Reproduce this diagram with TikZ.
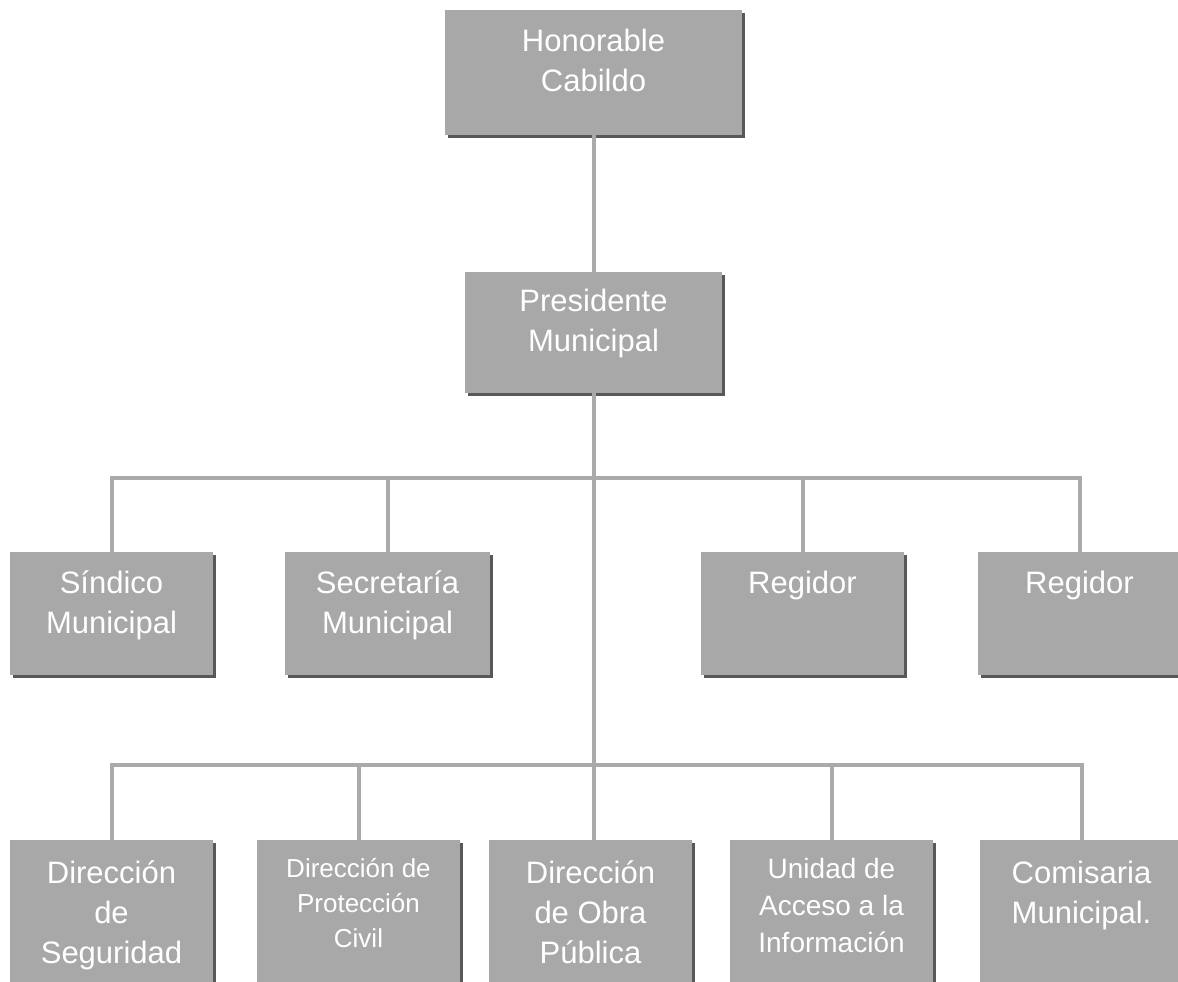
\documentclass[tikz,border=0pt]{standalone}
\usepackage{fontspec}
\setmainfont{Liberation Sans}
\usetikzlibrary{positioning,shadows}
\definecolor{cajagris}{RGB}{168,168,168}
\definecolor{sombragris}{RGB}{88,88,88}
\definecolor{lineagris}{RGB}{170,170,170}

\begin{document}
\begin{tikzpicture}[x=1pt, y=-1pt,
        cargo/.style={rectangle, fill=cajagris, text=white, inner sep=0pt, anchor=north,
            minimum width=203pt, minimum height=123pt, text height=41pt, text depth=82pt,
            align=center, font=\fontsize{31}{40}\selectfont,
            drop shadow={shadow xshift=3pt, shadow yshift=-3pt, opacity=1, fill=sombragris}},
        doslineas/.style={text height=81pt, text depth=42pt},
        cargobajo/.style={cargo, minimum height=170pt, text height=123pt, text depth=47pt},
        linea/.style={draw=lineagris, line width=4pt}]
    \useasboundingbox (0,0) rectangle (1178,982);
    \clip (0,0) rectangle (1178,982);
    \fill[white] (0,0) rectangle (1178,982);

    \node[cargo, minimum width=297pt, minimum height=125pt, text height=81pt, text depth=44pt] (cabildo) at (593.5,10) {Honorable\\Cabildo};
    \node[cargo, minimum width=257pt, minimum height=121pt, text height=79pt, text depth=42pt] (presidente) at (593.5,272) {Presidente\\Municipal};

    % segundo nivel
    \node[cargo, doslineas] (sindico) at (111.5,552) {Síndico\\Municipal};
    \node[cargo, doslineas, minimum width=205pt] (secretaria) at (387.5,552) {Secretaría\\Municipal};
    \node[cargo] (regidorA) at (802.5,552) {Regidor};
    \node[cargo] (regidorB) at (1079.5,552) {Regidor};

    % tercer nivel
    \node[cargobajo] (seguridad) at (111.5,840) {Dirección\\de\\Seguridad};
    \node[cargobajo, text height=107pt, text depth=63pt, font=\fontsize{26}{35}\selectfont] (proteccion) at (358.5,840) {Dirección de\\Protección\\Civil};
    \node[cargobajo] (obra) at (590.5,840) {Dirección\\de Obra\\Pública};
    \node[cargobajo, text height=112pt, text depth=58pt, font=\fontsize{28}{37}\selectfont] (unidad) at (831.5,840) {Unidad de\\Acceso a la\\Información};
    \node[cargobajo, text height=83pt, text depth=87pt] (comisaria) at (1081.5,840) {Comisaria\\Municipal.};

    \coordinate (barraA) at (593.5,478);
    \coordinate (barraB) at (593.5,765);

    \draw[linea] (cabildo.south) -- (presidente.north);
    \draw[linea] (presidente.south) -- (presidente.south |- obra.north);
    \draw[linea] (sindico.north) |- (barraA) -| (regidorB.north);
    \draw[linea] (secretaria.north) |- (barraA);
    \draw[linea] (regidorA.north) |- (barraA);
    \draw[linea] (seguridad.north) |- (barraB) -| (comisaria.north);
    \draw[linea] (proteccion.north) |- (barraB);
    \draw[linea] (unidad.north) |- (barraB);
\end{tikzpicture}
\end{document}
